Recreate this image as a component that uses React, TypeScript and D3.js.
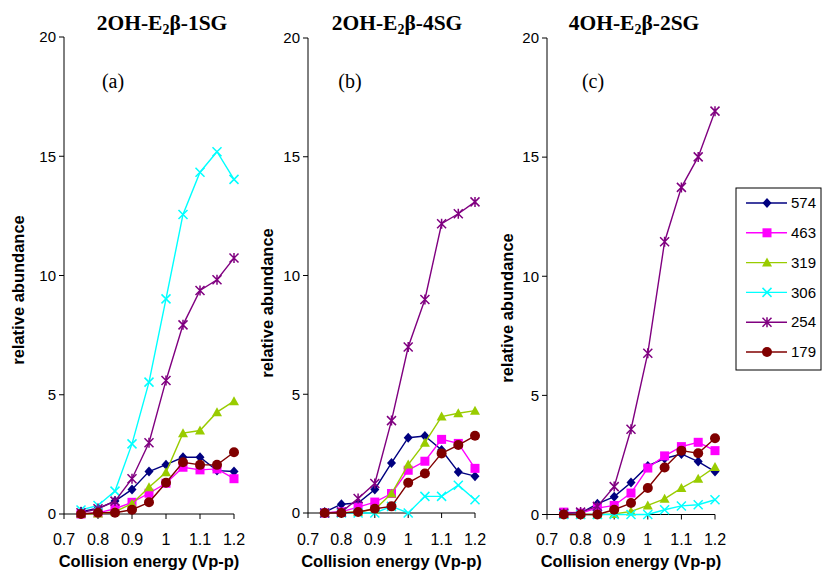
import React from "react";
import * as d3 from "d3";

const xValues = [0.75, 0.8, 0.85, 0.9, 0.95, 1.0, 1.05, 1.1, 1.15, 1.2];
const xTicks = [0.7, 0.8, 0.9, 1, 1.1, 1.2];
const yTicks = [0, 5, 10, 15, 20];
const seriesNames = ["574", "463", "319", "306", "254", "179"];
const seriesColors = ["#000080", "#FF00FF", "#99CC00", "#00FFFF", "#800080", "#800000"];
const seriesMarkers = ["diamond", "square", "triangle", "x", "star", "circle"];

// Panel (a) 2OH-E2β-1SG
const a574 = [0.1, 0.24, 0.54, 1.03, 1.78, 2.07, 2.38, 2.38, 1.82, 1.78];
const a463 = [0.0, 0.05, 0.22, 0.49, 0.87, 1.29, 1.96, 1.85, 1.89, 1.48];
const a319 = [0.0, 0.02, 0.1, 0.43, 1.12, 1.75, 3.39, 3.5, 4.27, 4.73];
const a306 = [0.17, 0.36, 0.96, 2.94, 5.53, 9.02, 12.56, 14.33, 15.19, 14.03];
const a254 = [0.05, 0.22, 0.54, 1.48, 2.99, 5.6, 7.93, 9.37, 9.82, 10.73];
const a179 = [0.0, 0.05, 0.05, 0.18, 0.49, 1.31, 2.17, 2.06, 2.06, 2.59];

// Panel (b) 2OH-E2β-4SG
const b574 = [0.04, 0.37, 0.42, 0.99, 2.11, 3.17, 3.24, 2.65, 1.73, 1.55];
const b463 = [0.0, 0.05, 0.25, 0.46, 0.82, 1.8, 2.18, 3.1, 2.93, 1.88];
const b319 = [0.0, 0.0, 0.05, 0.15, 0.82, 2.04, 2.96, 4.06, 4.2, 4.31];
const b306 = [0.0, 0.0, 0.0, 0.0, 0.28, 0.0, 0.7, 0.7, 1.17, 0.56];
const b254 = [0.0, 0.04, 0.61, 1.24, 3.89, 6.99, 8.99, 12.18, 12.6, 13.1];
const b179 = [0.0, 0.0, 0.04, 0.18, 0.28, 1.27, 1.66, 2.51, 2.86, 3.25];

// Panel (c) 4OH-E2β-2SG
const c574 = [0.03, 0.06, 0.45, 0.75, 1.34, 2.04, 2.35, 2.54, 2.22, 1.8];
const c463 = [0.1, 0.06, 0.27, 0.38, 0.9, 1.95, 2.46, 2.85, 3.03, 2.68];
const c319 = [0.0, 0.0, 0.0, 0.02, 0.13, 0.38, 0.66, 1.11, 1.5, 1.99];
const c306 = [0.0, 0.0, 0.0, 0.0, 0.0, 0.0, 0.2, 0.36, 0.41, 0.62];
const c254 = [0.05, 0.1, 0.34, 1.17, 3.58, 6.77, 11.45, 13.73, 15.01, 16.93];
const c179 = [0.0, 0.0, 0.0, 0.2, 0.48, 1.11, 1.97, 2.68, 2.57, 3.2];

const panelTitles = ["2OH-E|2|β-1SG", "2OH-E|2|β-4SG", "4OH-E|2|β-2SG"];
const panelLetters = ["(a)", "(b)", "(c)"];
const panelData = [
  [a574, a463, a319, a306, a254, a179],
  [b574, b463, b319, b306, b254, b179],
  [c574, c463, c319, c306, c254, c179],
];

const layouts = [
  { x0: 64, x1: 234, y0: 514, y1: 37, titleX: 162, letterX: 113, yTitleX: 24, yTitleY: 290 },
  { x0: 308, x1: 475, y0: 513, y1: 38, titleX: 397, letterX: 350, yTitleX: 273, yTitleY: 303 },
  { x0: 547, x1: 715, y0: 514.5, y1: 38, titleX: 634, letterX: 593, yTitleX: 513, yTitleY: 308 },
];

const sans = "Arial, 'Liberation Sans', Helvetica, sans-serif";
const serif = "'Times New Roman', 'Liberation Serif', Times, serif";

function Marker({ type, x, y, color }: { type: string; x: number; y: number; color: string }) {
  const s = 4.5;
  switch (type) {
    case "diamond":
      return <path d={`M${x},${y - s - 0.5}L${x + s},${y}L${x},${y + s + 0.5}L${x - s},${y}Z`} fill={color} />;
    case "square":
      return <rect x={x - 4.5} y={y - 4.5} width={9} height={9} fill={color} />;
    case "triangle":
      return <path d={`M${x},${y - 5}L${x + 5},${y + 4}L${x - 5},${y + 4}Z`} fill={color} />;
    case "x":
      return (
        <path d={`M${x - 4.5},${y - 4.5}L${x + 4.5},${y + 4.5}M${x - 4.5},${y + 4.5}L${x + 4.5},${y - 4.5}`} stroke={color} strokeWidth={1.5} fill="none" />
      );
    case "star":
      return (
        <path
          d={`M${x - 4.5},${y - 4.5}L${x + 4.5},${y + 4.5}M${x - 4.5},${y + 4.5}L${x + 4.5},${y - 4.5}M${x},${y - 5}L${x},${y + 5}`}
          stroke={color}
          strokeWidth={1.5}
          fill="none"
        />
      );
    case "circle":
      return <circle cx={x} cy={y} r={5} fill={color} />;
    default:
      return null;
  }
}

function Title({ text, x }: { text: string; x: number }) {
  const [pre, sub, post] = text.split("|");
  return (
    <text x={x} y={30} textAnchor="middle" fontFamily={serif} fontWeight="bold" fontSize={21.5}>
      {pre}
      <tspan fontSize={14} dy={4}>{sub}</tspan>
      <tspan dy={-4}>{post}</tspan>
    </text>
  );
}

function Panel({ idx }: { idx: number }) {
  const L = layouts[idx];
  const x = d3.scaleLinear().domain([0.7, 1.2]).range([L.x0, L.x1]);
  const y = d3.scaleLinear().domain([0, 20]).range([L.y0, L.y1]);
  const line = d3
    .line<number>()
    .x((_, i) => x(xValues[i]))
    .y((d) => y(d));
  const data = panelData[idx];
  return (
    <g>
      <Title text={panelTitles[idx]} x={L.titleX} />
      <text x={L.letterX} y={88} textAnchor="middle" fontFamily={serif} fontSize={20}>
        {panelLetters[idx]}
      </text>
      {/* y axis */}
      <line x1={L.x0} x2={L.x0} y1={y(0)} y2={y(20)} stroke="#000" strokeWidth={1} />
      {yTicks.map((t) => (
        <g key={t}>
          <line x1={L.x0 - 5} x2={L.x0} y1={y(t)} y2={y(t)} stroke="#000" />
          <text x={L.x0 - 8} y={y(t)} dy="0.35em" textAnchor="end" fontFamily={sans} fontSize={15}>
            {t}
          </text>
        </g>
      ))}
      {/* x axis */}
      <line x1={L.x0} x2={L.x1} y1={y(0)} y2={y(0)} stroke="#000" strokeWidth={1} />
      {xTicks.map((t) => (
        <g key={t}>
          <line x1={x(t)} x2={x(t)} y1={y(0)} y2={y(0) + 5} stroke="#000" />
          <text x={x(t)} y={545} textAnchor="middle" fontFamily={sans} fontSize={16}>
            {String(t)}
          </text>
        </g>
      ))}
      <text x={(L.x0 + L.x1) / 2} y={567} textAnchor="middle" fontFamily={sans} fontWeight="bold" fontSize={16.5}>
        Collision energy (Vp-p)
      </text>
      <text
        transform={`translate(${L.yTitleX},${L.yTitleY}) rotate(-90)`}
        textAnchor="middle"
        fontFamily={sans}
        fontWeight="bold"
        fontSize={16.5}
      >
        relative abundance
      </text>
      {data.map((vals, si) => (
        <g key={si}>
          <path d={line(vals) || ""} fill="none" stroke={seriesColors[si]} strokeWidth={1.4} />
          {vals.map((v, i) => (
            <Marker key={i} type={seriesMarkers[si]} x={x(xValues[i])} y={y(v)} color={seriesColors[si]} />
          ))}
        </g>
      ))}
    </g>
  );
}

function Legend() {
  const left = 736;
  const top = 188;
  const w = 85;
  const h = 182;
  const rowY = d3.scalePoint<string>().domain(seriesNames).range([203, 352]);
  return (
    <g>
      <rect x={left} y={top} width={w} height={h} fill="#fff" stroke="#000" strokeWidth={1} />
      {seriesNames.map((n, i) => {
        const yy = rowY(n) as number;
        return (
          <g key={n}>
            <line x1={746} x2={787} y1={yy} y2={yy} stroke={seriesColors[i]} strokeWidth={1.4} />
            <Marker type={seriesMarkers[i]} x={767} y={yy} color={seriesColors[i]} />
            <text x={791} y={yy} dy="0.35em" fontFamily={sans} fontSize={15}>
              {n}
            </text>
          </g>
        );
      })}
    </g>
  );
}

export default function App() {
  return (
    <svg width={822} height={575} style={{ position: "absolute", left: 0, top: 0, background: "#fff" }}>
      <rect x={0} y={0} width={822} height={575} fill="#fff" />
      {[0, 1, 2].map((i) => (
        <Panel key={i} idx={i} />
      ))}
      <Legend />
    </svg>
  );
}
